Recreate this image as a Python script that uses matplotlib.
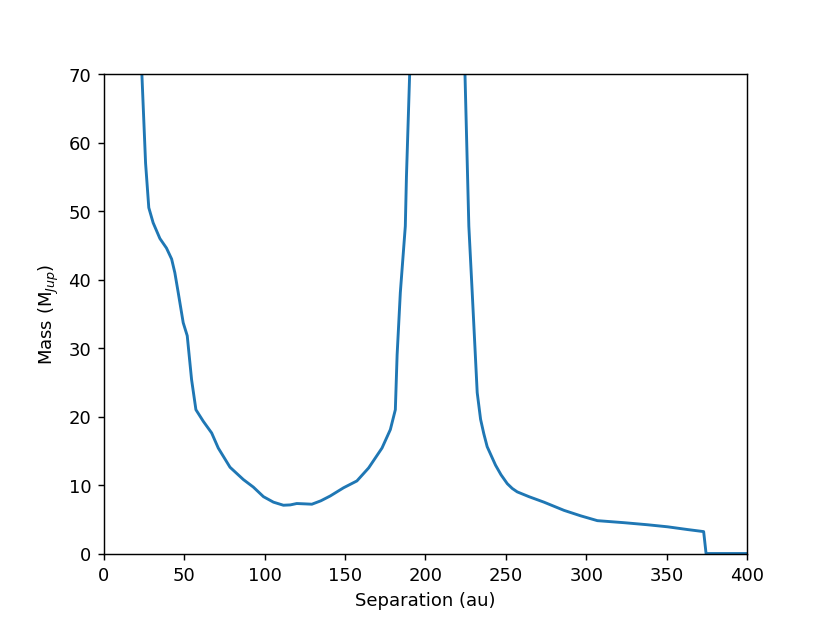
import matplotlib
matplotlib.use("Agg")
import matplotlib.pyplot as plt

separation = [23.0, 23.7, 26.0, 28.0, 30.7, 34.9, 39.0, 42.2, 44.2, 46.3, 49.4, 51.9,
              54.6, 57.3, 61.9, 67.1, 71.2, 78.5, 86.8, 93.0, 99.3, 105.5, 111.7,
              116.0, 120.0, 125.0, 129.4, 135.0, 140.8, 149.1, 157.4, 164.7, 173.0,
              178.2, 181.3, 182.4, 184.4, 187.5, 188.2, 190.2, 190.6,
              224.0, 224.6, 227.0, 229.1, 232.2, 234.3, 236.3, 238.4, 243.6,
              247.0, 250.9, 254.0, 257.1, 264.4, 273.7, 286.2, 296.6, 306.9, 323.6,
              338.1, 350.6, 363.0, 373.0, 374.5, 400.0]
mass = [78.0, 70.0, 57.0, 50.5, 48.3, 46.0, 44.6, 43.0, 41.0, 38.1, 33.7, 31.8,
        25.4, 21.0, 19.3, 17.6, 15.4, 12.6, 10.8, 9.7, 8.3, 7.5, 7.05,
        7.1, 7.3, 7.25, 7.2, 7.7, 8.4, 9.6, 10.6, 12.5, 15.4,
        18.1, 21.0, 29.0, 38.1, 47.8, 55.0, 70.0, 75.0,
        75.0, 70.0, 47.8, 38.1, 23.5, 19.6, 17.5, 15.6, 12.9,
        11.5, 10.2, 9.5, 9.0, 8.3, 7.5, 6.3, 5.5, 4.8, 4.5,
        4.2, 3.9, 3.5, 3.2, 0.0, 0.0]

fig, ax = plt.subplots(figsize=(6.4, 4.8), dpi=129.7)
ax.plot(separation, mass, color="#1f77b4", linewidth=1.6)
ax.set_xlim(0, 400)
ax.set_ylim(0, 70)
ax.set_xlabel("Separation (au)")
ax.set_ylabel("Mass (M$_{Jup}$)")
fig.savefig("out.png", dpi=129.7)
